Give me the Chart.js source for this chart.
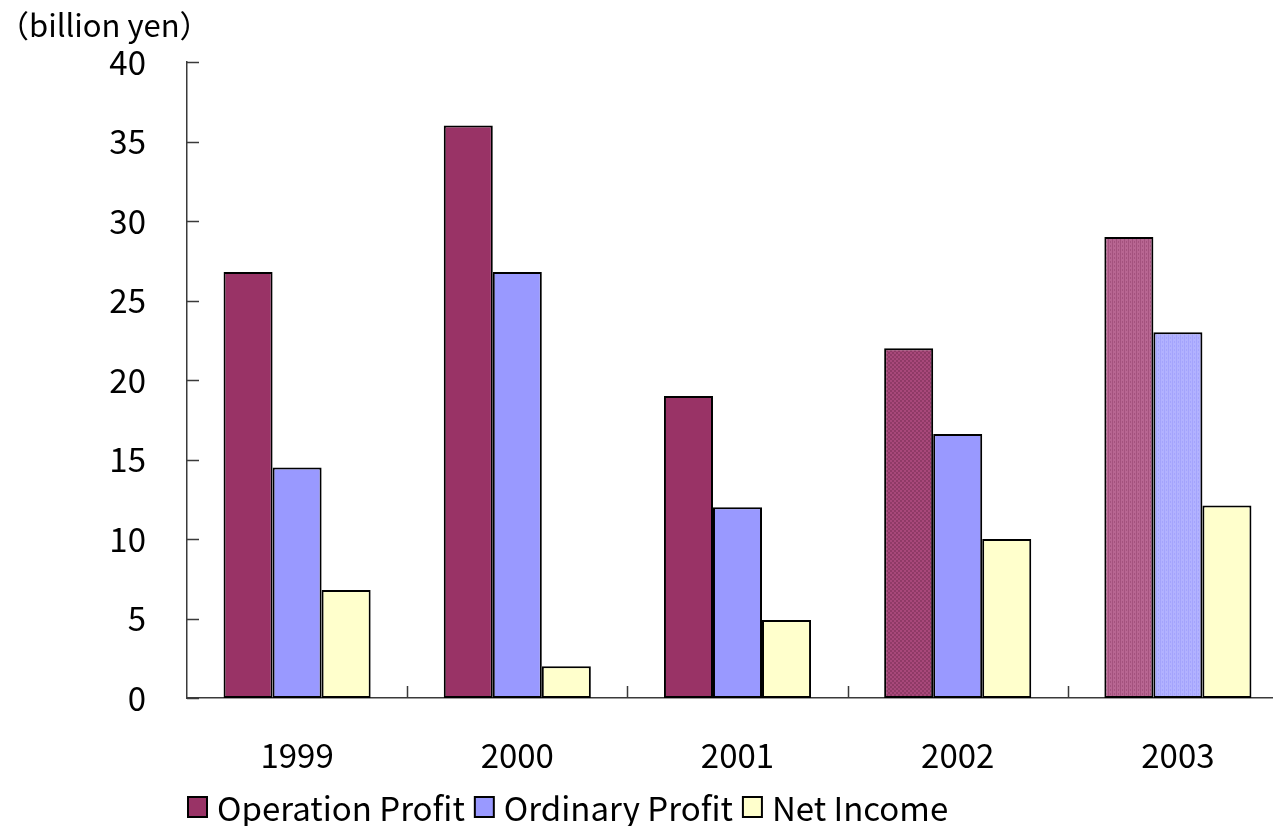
<!DOCTYPE html>
<html>
<head>
<meta charset="utf-8">
<script src="https://cdn.jsdelivr.net/npm/chart.js@4"></script>
<style>
    html, body { margin: 0; padding: 0; background: #fff; overflow: hidden; }
    #wrap { width: 1300px; height: 826px; position: relative; }
</style>
</head>
<body>
<div id="wrap"><canvas id="profitChart"></canvas></div>
<script>
// Yearly results (billion yen)
const years = ['1999', '2000', '2001', '2002', '2003'];
const operationProfit = [26.8, 36.0, 19.0, 22.0, 29.0];
const ordinaryProfit = [14.5, 26.8, 12.0, 16.6, 23.0];
const netIncome = [6.8, 2.0, 4.9, 10.0, 12.1];
const yTicks = [0, 5, 10, 15, 20, 25, 30, 35, 40];

const FONT = '"Noto Sans CJK JP", "DejaVu Sans", sans-serif';
const AXIS_COLOR = '#3a3a3a';

// small textured fills used for the later years
const makePattern = (base, dot, kind) => {
    const c = document.createElement('canvas');
    c.width = 4;
    c.height = 4;
    const g = c.getContext('2d');
    g.fillStyle = base;
    g.fillRect(0, 0, 4, 4);
    g.fillStyle = dot;
    if (kind === 'dots') {
        g.fillRect(0, 0, 2, 2);
        g.fillRect(2, 2, 2, 2);
    } else {
        g.fillRect(0, 0, 1, 4);
        g.fillRect(2, 1, 1, 2);
    }
    return g.createPattern(c, 'repeat');
};

const opColors = ['#993366', '#993366', '#993366',
    makePattern('#a8487a', '#8f3a66', 'dots'),
    makePattern('#b86692', '#a4527e', 'stripes')];
const ordColors = ['#9999ff', '#9999ff', '#9999ff', '#9999ff',
    makePattern('#b2b2ff', '#a4a4fc', 'stripes')];
const netColors = years.map(() => '#ffffcc');

// inward tick marks, unit caption and the legend row
const decorations = {
    id: 'decorations',
    afterDraw: (chart) => {
        const ctx = chart.ctx;
        const y = chart.scales.y;
        const area = chart.chartArea;
        ctx.save();
        ctx.strokeStyle = AXIS_COLOR;
        ctx.lineWidth = 1.5;
        ctx.beginPath();
        yTicks.forEach(v => {
            const py = Math.round(y.getPixelForValue(v)) + 0.5;
            ctx.moveTo(area.left, py);
            ctx.lineTo(area.left + 12, py);
        });
        const step = (area.right - area.left) / years.length;
        for (let i = 1; i <= years.length; i++) {
            const px = Math.round(area.left + step * i) + 0.5;
            ctx.moveTo(px, area.bottom);
            ctx.lineTo(px, area.bottom - 12);
        }
        ctx.stroke();

        ctx.fillStyle = '#000';
        ctx.font = '31px ' + FONT;
        ctx.textBaseline = 'middle';
        ctx.textAlign = 'left';
        ctx.fillText('（billion yen）', -2, 25);

        // legend
        ctx.font = '33px ' + FONT;
        let lx = 188;
        const ly = 807;
        chart.data.datasets.forEach(ds => {
            ctx.fillStyle = ds.legendColor;
            ctx.fillRect(lx, ly - 10, 19, 20);
            ctx.strokeStyle = '#000';
            ctx.lineWidth = 2;
            ctx.strokeRect(lx, ly - 10, 19, 20);
            ctx.fillStyle = '#000';
            ctx.fillText(ds.label, lx + 29, ly + 1);
            lx += 29 + ctx.measureText(ds.label).width + 10;
        });
        ctx.restore();
    }
};

new Chart(document.getElementById('profitChart'), {
    type: 'bar',
    data: {
        labels: years,
        datasets: [
            { label: 'Operation Profit', data: operationProfit, backgroundColor: opColors, legendColor: '#993366' },
            { label: 'Ordinary Profit', data: ordinaryProfit, backgroundColor: ordColors, legendColor: '#9999ff' },
            { label: 'Net Income', data: netIncome, backgroundColor: netColors, legendColor: '#ffffcc' }
        ]
    },
    options: {
        responsive: true,
        maintainAspectRatio: false,
        animation: false,
        layout: { padding: { top: 62, right: 12, left: 0, bottom: 0 } },
        datasets: {
            bar: {
                borderColor: '#000',
                borderWidth: 2,
                borderSkipped: false,
                categoryPercentage: 0.668,
                barPercentage: 1
            }
        },
        plugins: {
            legend: { display: false },
            tooltip: { enabled: false }
        },
        scales: {
            x: {
                grid: { display: false },
                border: { display: true, color: AXIS_COLOR, width: 1.5 },
                ticks: { color: '#000', font: { family: FONT, size: 33 }, padding: 30 },
                afterFit: (scale) => { scale.height = 128; }
            },
            y: {
                min: 0,
                max: 40,
                grid: { display: false },
                border: { display: true, color: AXIS_COLOR, width: 1.5 },
                ticks: {
                    stepSize: 5,
                    color: '#000',
                    font: { family: FONT, size: 33 },
                    padding: 33
                },
                afterFit: (scale) => { scale.width = 187; }
            }
        }
    },
    plugins: [decorations]
});
</script>
</body>
</html>
